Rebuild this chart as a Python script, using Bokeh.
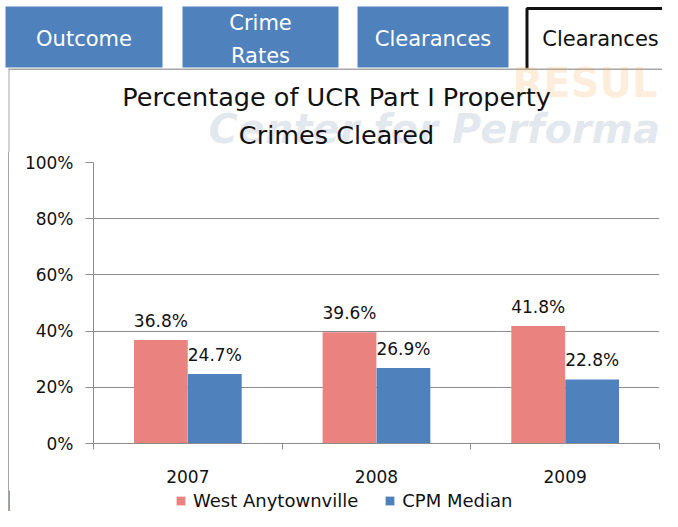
import numpy as np
from bokeh.plotting import figure
from bokeh.models import (ColumnDataSource, Range1d, FixedTicker, PrintfTickFormatter,
                          LabelSet, Label, Legend, LegendItem, Div)
from bokeh.layouts import column, row
from bokeh.transform import dodge
from bokeh.core.properties import value
from bokeh.embed import file_html
from bokeh.resources import INLINE

# ---------------- data ----------------
years = ["2007", "2008", "2009"]
west_anytownville = [36.8, 39.6, 41.8]
cpm_median = [24.7, 26.9, 22.8]
series_names = ["West Anytownville", "CPM Median"]
y_ticks = [0, 20, 40, 60, 80, 100]
tab_labels = ["Outcome", "Crime\nRates", "Clearances", "Clearances"]
title_lines = ["Percentage of UCR Part I Property", "Crimes Cleared"]
watermark_texts = ["RESUL", "Center for Performa"]

# ---------------- styles ----------------
FONT = "DejaVu Sans"
PINK = "#EA8380"
BLUE = "#4F81BD"
TAB_BLUE = "#4F81BD"
GRID = "#8c8c8c"
FRAME_GRAY = "#a6a6a6"
TXT = "#111111"
BASE_SHIFT = 0.37   # label baseline correction (fraction of font size)

TOTAL_W, TOTAL_H = 662, 511
BOX_X = 8          # left edge of the chart box

def base(y, size):
    return y - BASE_SHIFT * size

# ---------------- header: tabs, watermark, title ----------------
DH = 152
d = figure(width=TOTAL_W, height=DH, x_range=Range1d(0, TOTAL_W), y_range=Range1d(DH, 0),
           output_backend="svg", toolbar_location=None, min_border=0,
           x_axis_type=None, y_axis_type=None, outline_line_color=None)
d.grid.visible = False

tab_left = [5, 182, 357, 525]
tab_right = [162, 338, 508, 675]
tab_top, tab_bottom = 6, 67
d.quad(left=tab_left[:3], right=tab_right[:3], top=[tab_top] * 3, bottom=[tab_bottom] * 3,
       fill_color=TAB_BLUE, line_color=None)
d.quad(left=[tab_left[3]], right=[TOTAL_W + 10], top=[tab_top], bottom=[68],
       fill_color="white", line_color=None)
d.line(x=[tab_left[3] + 1.5, tab_left[3] + 1.5, TOTAL_W + 5], y=[68, tab_top + 2, tab_top + 2],
       line_color="#111111", line_width=3)
d.segment(x0=[BOX_X], y0=[68.75], x1=[TOTAL_W], y1=[68.75], line_color=FRAME_GRAY, line_width=1.5)
d.segment(x0=[BOX_X + 0.5], y0=[68], x1=[BOX_X + 0.5], y1=[DH], line_color=FRAME_GRAY, line_width=1)

# faint watermark texts
d.add_layout(Label(x=512, y=base(97, 40), text=watermark_texts[0], text_font=FONT,
                   text_font_style="bold", text_font_size="40px", text_color="#f5a345",
                   text_alpha=0.2, text_baseline="alphabetic"))
d.add_layout(Label(x=208, y=base(143, 40), text=watermark_texts[1], text_font=FONT,
                   text_font_style="bold italic", text_font_size="40px", text_color="#4f6f96",
                   text_alpha=0.17, text_baseline="alphabetic"))

# tab captions
TAB_FS = 21
for i, lab in enumerate(tab_labels):
    lines = lab.split("\n")
    cx = (tab_left[i] + tab_right[i]) / 2
    for j, ln in enumerate(lines):
        d.add_layout(Label(x=cx, y=base(46.5 + (j - (len(lines) - 1) / 2) * 33, TAB_FS), text=ln,
                           text_color="white" if i < 3 else TXT, text_font=FONT,
                           text_font_size=f"{TAB_FS}px", text_align="center",
                           text_baseline="alphabetic"))

# chart title
TITLE_FS = 25.5
for ln, b in zip(title_lines, (106, 144)):
    d.add_layout(Label(x=336, y=base(b, TITLE_FS), text=ln, text_font=FONT,
                       text_font_size=f"{TITLE_FS}px", text_color=TXT,
                       text_align="center", text_baseline="alphabetic"))

# ---------------- chart ----------------
FRAME_L, FRAME_T, FRAME_B, FRAME_R = 93, 162, 443, 659   # page positions of the plot frame
CHART_B = 490
PH = CHART_B - DH
PW = TOTAL_W - BOX_X - 1
p = figure(width=PW, height=PH, x_range=Range1d(0, len(years)), y_range=Range1d(0, 100),
           output_backend="svg", toolbar_location=None,
           min_border_left=FRAME_L - BOX_X - 1, min_border_right=TOTAL_W - FRAME_R,
           min_border_top=FRAME_T - DH, min_border_bottom=CHART_B - FRAME_B,
           outline_line_color=None, background_fill_color="white", border_fill_color="white")

xc = np.arange(len(years)) + 0.5
src = ColumnDataSource(dict(
    x=xc, west=west_anytownville, cpm=cpm_median,
    west_lbl=[f"{v:.1f}%" for v in west_anytownville],
    cpm_lbl=[f"{v:.1f}%" for v in cpm_median],
))

OFF, BW = 0.143, 0.285
p.vbar(x=dodge("x", -OFF), top="west", width=BW, source=src, fill_color=PINK, line_color=None)
p.vbar(x=dodge("x", OFF), top="cpm", width=BW, source=src, fill_color=BLUE, line_color=None)

for fld, lbl, off in (("west", "west_lbl", -OFF), ("cpm", "cpm_lbl", OFF)):
    p.add_layout(LabelSet(x=dodge("x", off), y=fld, text=lbl, source=src, y_offset=13,
                          text_align="center", text_baseline="alphabetic",
                          text_font=value(FONT), text_font_size="17px", text_color=TXT))

p.xaxis.ticker = FixedTicker(ticks=list(xc), minor_ticks=list(range(len(years) + 1)))
p.xaxis.major_label_overrides = {float(x): y for x, y in zip(xc, years)}
p.xaxis.major_tick_line_color = None
p.xaxis.minor_tick_line_color = GRID
p.xaxis.minor_tick_in = 0
p.xaxis.minor_tick_out = 6
p.xaxis.axis_line_color = GRID
p.xaxis.major_label_standoff = 20
p.xaxis.major_label_text_font = FONT
p.xaxis.major_label_text_font_size = "17px"
p.xaxis.major_label_text_color = TXT

p.yaxis.ticker = FixedTicker(ticks=y_ticks)
p.yaxis.formatter = PrintfTickFormatter(format="%d%%")
p.yaxis.major_tick_in = 0
p.yaxis.major_tick_out = 8
p.yaxis.major_tick_line_color = GRID
p.yaxis.minor_tick_line_color = None
p.yaxis.axis_line_color = GRID
p.yaxis.major_label_standoff = 12
p.yaxis.major_label_text_font = FONT
p.yaxis.major_label_text_font_size = "17px"
p.yaxis.major_label_text_color = TXT

p.xgrid.visible = False
p.ygrid.ticker = FixedTicker(ticks=y_ticks)
p.ygrid.grid_line_color = GRID
p.ygrid.grid_line_width = 1

# ---------------- legend strip ----------------
LH = TOTAL_H - CHART_B
lg = figure(width=PW, height=LH, x_range=Range1d(100, 101), y_range=Range1d(0, 1),
            output_backend="svg", toolbar_location=None, min_border=0,
            x_axis_type=None, y_axis_type=None, outline_line_color=None)
lg.grid.visible = False
# legend proxies share the chart's data (kept outside this strip's visible range)
k1 = lg.vbar(x="x", top="west", width=BW, source=src, fill_color=PINK, line_color=None)
k2 = lg.vbar(x="x", top="cpm", width=BW, source=src, fill_color=BLUE, line_color=None)
legend = Legend(items=[LegendItem(label=series_names[0], renderers=[k1]),
                       LegendItem(label=series_names[1], renderers=[k2])],
                orientation="horizontal", location=(175 - BOX_X - 1, 0),
                glyph_width=11, glyph_height=11, label_standoff=7, spacing=26,
                padding=0, margin=0, border_line_color=None, background_fill_alpha=0,
                label_text_font=FONT, label_text_font_size="18px", label_text_color=TXT)
lg.add_layout(legend, "center")

def left_pad(h):
    return [Div(text="", width=BOX_X, height=h, margin=0, styles={"background-color": "white"}),
            Div(text="", width=1, height=h, margin=0, styles={"background-color": FRAME_GRAY})]

layout = column(d, row(*left_pad(PH), p, spacing=0), row(*left_pad(LH), lg, spacing=0),
                spacing=0)

open("out.html", "w").write(file_html(layout, INLINE))
